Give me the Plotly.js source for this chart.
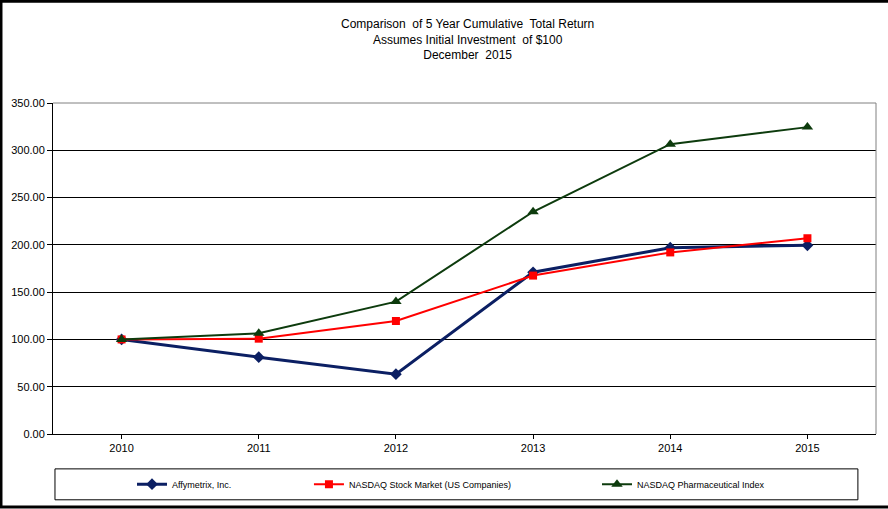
<!DOCTYPE html>
<html>
<head>
<meta charset="utf-8">
<script src="https://cdn.plot.ly/plotly-3.0.1.min.js"></script>
<style>html,body{margin:0;padding:0;background:#fff;}#chart{width:888px;height:509px;}</style>
</head>
<body>
<div id="chart"></div>
<script>
const years = ["2010", "2011", "2012", "2013", "2014", "2015"];
const affymetrix = [100.00, 81.2, 63.3, 171.0, 197.0, 199.5];
const nasdaqMarket = [100.00, 100.8, 119.5, 167.5, 192.0, 207.0];
const nasdaqPharma = [100.00, 106.5, 140.0, 235.0, 306.5, 324.5];
const seriesNames = ["Affymetrix, Inc.", "NASDAQ Stock Market (US Companies)", "NASDAQ Pharmaceutical Index"];
const yTicks = [0, 50, 100, 150, 200, 250, 300, 350];
const titleText = "Comparison  of 5 Year Cumulative  Total Return<br>Assumes Initial Investment  of $100<br>December  2015";

const font = "Liberation Sans, Arial, sans-serif";

const traces = [
  {x: years, y: affymetrix, name: seriesNames[0], type: "scatter", mode: "lines+markers",
   line: {color: "#0b1f63", width: 3}, marker: {symbol: "diamond", size: 9, color: "#0b1f63"}, legend: "legend"},
  {x: years, y: nasdaqMarket, name: seriesNames[1], type: "scatter", mode: "lines+markers",
   line: {color: "#ff0000", width: 2}, marker: {symbol: "square", size: 8, color: "#ff0000"}, legend: "legend2"},
  {x: years, y: nasdaqPharma, name: seriesNames[2], type: "scatter", mode: "lines+markers",
   line: {color: "#0d3b0d", width: 2}, marker: {symbol: "triangle-up", size: 10, color: "#0d3b0d"}, legend: "legend3"}
];

const legendBase = {orientation: "h", yanchor: "middle", xanchor: "left", y: -0.148,
  bgcolor: "rgba(0,0,0,0)", font: {family: font, size: 9, color: "#000"}};

const layout = {
  width: 888, height: 509,
  margin: {l: 53, r: 12, t: 103, b: 74},
  paper_bgcolor: "#fff", plot_bgcolor: "#fff",
  annotations: [
    {text: titleText, xref: "paper", yref: "paper", x: 0.504, y: 1.265, xanchor: "center", yanchor: "top",
     showarrow: false, align: "center", font: {family: font, size: 12, color: "#000"}}
  ],
  xaxis: {type: "category", range: [-0.5, 5.5], showgrid: false, showline: true, linecolor: "#000", linewidth: 1,
    ticks: "outside", ticklen: 4, tickcolor: "#000", tickfont: {family: font, size: 11, color: "#000"}, zeroline: false},
  yaxis: {range: [0, 350], tickvals: yTicks, tickformat: ".2f", showgrid: true, gridcolor: "#000", gridwidth: 1,
    showline: true, linecolor: "#000", linewidth: 1, ticks: "outside", ticklen: 5, tickcolor: "#000",
    tickfont: {family: font, size: 11, color: "#000"}, zeroline: false},
  showlegend: true,
  legend: Object.assign({}, legendBase, {x: 0.096}),
  legend2: Object.assign({}, legendBase, {x: 0.311}),
  legend3: Object.assign({}, legendBase, {x: 0.661}),
  shapes: [
    {type: "line", xref: "paper", yref: "paper", x0: 0, x1: 1, y0: 1, y1: 1, line: {color: "#808080", width: 1}},
    {type: "line", xref: "paper", yref: "paper", x0: 1, x1: 1, y0: 0, y1: 1, line: {color: "#808080", width: 1}},
    {type: "rect", xref: "paper", yref: "paper", x0: 0.0024, x1: 0.978, y0: -0.1988, y1: -0.1054,
     line: {color: "#000", width: 1}},
    {type: "rect", xref: "paper", yref: "paper", x0: -0.0632, x1: 1.0784, y0: 1.3072, y1: -0.2206,
     line: {color: "#000", width: 3}}
  ]
};

Plotly.newPlot("chart", traces, layout, {displayModeBar: false, staticPlot: true});
</script>
</body>
</html>
